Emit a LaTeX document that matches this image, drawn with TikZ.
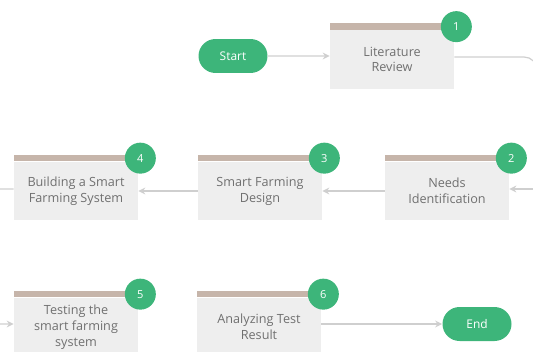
\documentclass[tikz,border=0pt]{standalone}
\usepackage{fontspec}
\setmainfont{Open Sans}
\usetikzlibrary{shapes.misc,arrows.meta}

\definecolor{stepgreen}{HTML}{3DB57A}
\definecolor{stepbar}{HTML}{C6B5AA}
\definecolor{stepfill}{HTML}{EEEEEE}
\definecolor{flowline}{HTML}{CFCFCF}
\definecolor{steptext}{HTML}{707070}

\tikzset{
	stepbox/.style={rectangle, fill=stepfill, minimum width=2.48cm, minimum height=1.18cm,
		inner sep=0pt, align=center, text=steptext, font=\fontsize{7.2}{9}\selectfont},
	stepnum/.style={circle, fill=stepgreen, minimum size=0.62cm, inner sep=0pt,
		text=white, font=\fontsize{6.3}{8}\selectfont},
	terminal/.style={rounded rectangle, fill=stepgreen, minimum width=1.38cm, minimum height=0.68cm,
		inner sep=0pt, text=white, font=\fontsize{6.8}{8}\selectfont},
	flow/.style={draw=flowline, line width=0.7pt, -{Stealth[length=4pt,width=4pt]}},
}

\begin{document}
\begin{tikzpicture}[x=0.02cm,y=-0.02cm]
	\clip (0,0) rectangle (533,351);

	%row 1
	\node[terminal] (start) at (233,56) {Start};
	\node[stepbox] (b1) at (392,59.5) {Literature\\Review};

	%row 2
	\node[stepbox] (b2) at (447,191) {Needs\\Identification};
	\node[stepbox] (b3) at (260,191) {Smart Farming\\Design};
	\node[stepbox] (b4) at (76,191) {Building a Smart\\Farming System};

	%row 3
	\node[stepbox] (b5) at (76,327) {Testing the\\smart farming\\system};
	\node[stepbox] (b6) at (259,327) {Analyzing Test\\Result};
	\node[terminal] (end) at (477,324) {End};

	% bars
	\foreach \b in {b1,b2,b3,b4,b5,b6}
		\fill[stepbar] (\b.north west) rectangle ([yshift=0.13cm]\b.north east);

	% numbers
	\node[stepnum] (n1) at ([xshift=0.04cm,yshift=0.06cm]b1.north east) {1};
	\node[stepnum] (n2) at ([xshift=0.04cm,yshift=0.06cm]b2.north east) {2};
	\node[stepnum] (n3) at ([xshift=0.04cm,yshift=0.06cm]b3.north east) {3};
	\node[stepnum] (n4) at ([xshift=0.04cm,yshift=0.06cm]b4.north east) {4};
	\node[stepnum] (n5) at ([xshift=0.04cm,yshift=0.06cm]b5.north east) {5};
	\node[stepnum] (n6) at ([xshift=0.04cm,yshift=0.06cm]b6.north east) {6};

	% arrows
	\coordinate (rturn) at (537,57);
	\coordinate (rin) at (550,189);
	\coordinate (lturn) at (-14,189);
	\draw[flow] (start) -- (start -| b1.west);
	\draw[draw=flowline, line width=0.7pt, rounded corners=0.26cm] (b1.east |- rturn) -- (rturn) -- ++(0,60);
	\draw[flow] (rin) -- (b2.east |- rin);
	\draw[flow] (b2.west) -- (b3.east);
	\draw[flow] (b3.west) -- (b4.east);
	\draw[flow, rounded corners=0.3cm] (b4.west |- lturn) -- (lturn) -- (lturn |- end) -- (b5.west |- end);
	\draw[flow] (b6.east |- end) -- (end);
\end{tikzpicture}
\end{document}
